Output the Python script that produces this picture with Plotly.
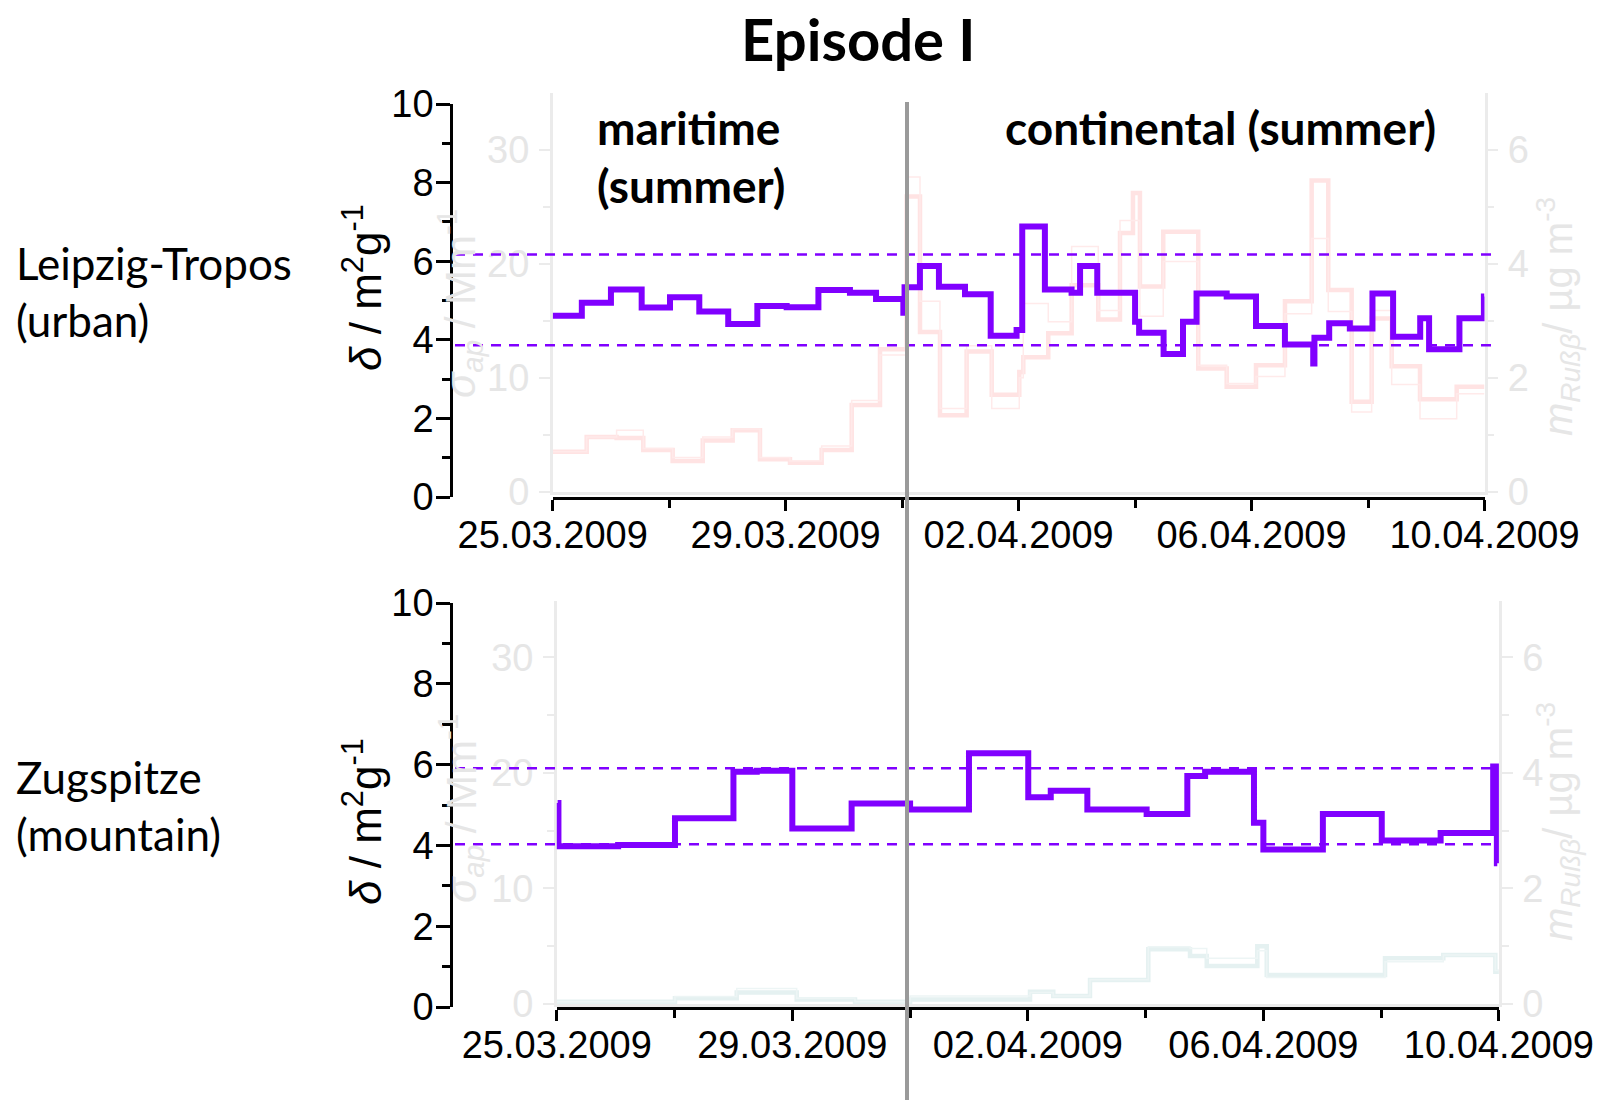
import plotly.graph_objects as go

W, H = 1602, 1100

# ---------------- data ----------------
# Leipzig-Tropos: mass absorption cross section delta (segment start times, values)
top_t = ["2009-03-25 00:00", "2009-03-25 12:00", "2009-03-26 00:00", "2009-03-26 12:40",
         "2009-03-27 00:20", "2009-03-27 12:25", "2009-03-28 00:20", "2009-03-28 12:20",
         "2009-03-29 00:25", "2009-03-29 13:30", "2009-03-30 02:30", "2009-03-30 13:15",
         "2009-03-31 00:30", "2009-03-31 01:00", "2009-03-31 07:20", "2009-03-31 15:10",
         "2009-04-01 01:55", "2009-04-01 12:30", "2009-04-01 23:10", "2009-04-02 01:30",
         "2009-04-02 10:50", "2009-04-02 21:50", "2009-04-03 01:20", "2009-04-03 08:25",
         "2009-04-04 00:00", "2009-04-04 01:40", "2009-04-04 11:45", "2009-04-04 19:45",
         "2009-04-05 01:20", "2009-04-05 13:45", "2009-04-06 01:50", "2009-04-06 13:45",
         "2009-04-07 01:25", "2009-04-07 01:55", "2009-04-07 08:00", "2009-04-07 16:30",
         "2009-04-08 01:50", "2009-04-08 10:20", "2009-04-08 21:30", "2009-04-09 01:10",
         "2009-04-09 13:40", "2009-04-09 23:45"]
top_v = [4.61, 4.94, 5.28, 4.82, 5.08, 4.72, 4.40, 4.86, 4.83, 5.27, 5.20, 5.04,
         4.69, 5.34, 5.88, 5.35, 5.16, 4.10, 4.25, 6.88, 5.28, 5.20, 5.88, 5.20,
         4.46, 4.18, 3.64, 4.46, 5.18, 5.10, 4.35, 3.88, 3.40, 4.05, 4.42, 4.29,
         5.18, 4.08, 4.55, 3.76, 4.55, 5.10]
top_end = "2009-04-10 00:00"
top_band = [6.17, 3.86]

# Zugspitze
bot_t = ["2009-03-25 00:20", "2009-03-25 00:40", "2009-03-26 01:00", "2009-03-27 00:10",
         "2009-03-28 00:00", "2009-03-28 09:30", "2009-03-29 00:00", "2009-03-30 00:10",
         "2009-03-31 00:00", "2009-04-01 00:00", "2009-04-02 00:10", "2009-04-02 09:20",
         "2009-04-03 00:15", "2009-04-04 00:25", "2009-04-04 17:00", "2009-04-05 00:15",
         "2009-04-05 20:10", "2009-04-06 00:00", "2009-04-07 00:15", "2009-04-08 00:15",
         "2009-04-09 00:15", "2009-04-09 21:40", "2009-04-09 23:10"]
bot_v = [5.05, 3.98, 4.01, 4.67, 5.82, 5.85, 4.42, 5.04, 4.89, 6.28, 5.19, 5.35,
         4.89, 4.78, 5.72, 5.82, 4.56, 3.90, 4.78, 4.12, 4.31, 5.95, 3.56]
bot_end = "2009-04-09 23:20"
bot_band = [5.91, 4.03]

# faint background series: sigma_ap (Mm-1) and m_Russ (ug m-3)
gtop_t = ["2009-03-25 00:00", "2009-03-25 14:00", "2009-03-26 02:20", "2009-03-26 13:20",
          "2009-03-27 01:26", "2009-03-27 13:50", "2009-03-28 02:10", "2009-03-28 13:25",
          "2009-03-29 01:47", "2009-03-29 14:50", "2009-03-30 03:13", "2009-03-30 14:53",
          "2009-03-31 01:52", "2009-03-31 07:22", "2009-03-31 15:36", "2009-04-01 02:35",
          "2009-04-01 12:55", "2009-04-02 00:17", "2009-04-02 01:56", "2009-04-02 12:14",
          "2009-04-02 21:52", "2009-04-03 08:50", "2009-04-03 17:47", "2009-04-03 23:08",
          "2009-04-04 02:00", "2009-04-04 11:37", "2009-04-05 02:02", "2009-04-05 13:45",
          "2009-04-06 01:50", "2009-04-06 13:46", "2009-04-07 00:46", "2009-04-07 07:37",
          "2009-04-07 17:15", "2009-04-08 01:30", "2009-04-08 09:45", "2009-04-08 21:25",
          "2009-04-09 12:32"]
gtop_sigma = [3.5, 4.8, 4.7, 3.66, 2.7, 4.5, 5.4, 2.84, 2.54, 3.66, 7.6, 12.5,
              25.9, 14.0, 6.7, 12.3, 8.5, 10.5, 11.8, 13.9, 18.1, 15.1, 22.7, 26.2,
              18.0, 22.8, 10.8, 9.2, 11.1, 16.7, 27.3, 17.7, 7.9, 15.2, 11.0, 8.1, 9.2]
gtop_mass = [0.70, 0.96, 1.08, 0.76, 0.60, 0.96, 1.10, 0.60, 0.54, 0.80, 1.60, 2.40,
             5.52, 3.34, 1.46, 2.56, 1.46, 2.00, 3.30, 2.98, 4.30, 3.18, 4.76, 4.76,
             3.08, 4.04, 2.22, 1.90, 2.02, 3.12, 4.44, 3.16, 1.40, 3.18, 1.88, 1.28, 1.72]
gtop_end = "2009-04-10 00:00"

gbot_t = ["2009-03-25 00:00", "2009-03-27 00:10", "2009-03-28 01:20", "2009-03-29 01:47",
          "2009-03-30 01:33", "2009-03-31 00:00", "2009-04-02 00:53", "2009-04-02 10:22",
          "2009-04-03 01:20", "2009-04-04 01:06", "2009-04-04 18:06", "2009-04-05 00:55",
          "2009-04-05 21:32", "2009-04-06 01:22", "2009-04-08 01:35", "2009-04-09 01:20",
          "2009-04-09 22:33"]
gbot_sigma = [0.2, 0.5, 1.0, 0.4, 0.2, 0.4, 1.06, 0.7, 2.08, 4.73, 4.15, 3.29,
              5.0, 2.5, 3.95, 4.24, 2.8]
gbot_mass = [0.04, 0.13, 0.27, 0.10, 0.04, 0.14, 0.20, 0.14, 0.42, 0.99, 0.96, 0.79,
             0.92, 0.46, 0.73, 0.85, 0.58]
gbot_end = "2009-04-10 00:00"

x_range = ["2009-03-25", "2009-04-10"]
x_tickvals = ["2009-03-25", "2009-03-29", "2009-04-02", "2009-04-06", "2009-04-10"]
x_ticktext = ["25.03.2009", "29.03.2009", "02.04.2009", "06.04.2009", "10.04.2009"]
x_minorvals = ["2009-03-27", "2009-03-31", "2009-04-04", "2009-04-08"]

# ---------------- styles ----------------
PURPLE = "#8000ff"
GH_LINE = "#ebebeb"
GH_TEXT = "#e6e6e6"
PINK = "#ffe3e3"
PINK2 = "#ffeaea"
CYAN = "#e5f1f1"
CYAN2 = "#edf5f5"
TICKFONT = dict(family="Liberation Sans, Arial", size=38, color="black")
GHFONT = dict(family="Liberation Sans, Arial", size=38, color=GH_TEXT)
TXT = "Lato, Carlito, Calibri, sans-serif"

def px(x):
    return x / W

def py(y):
    return 1 - y / H

def step(t, v, end):
    return list(t) + [end], list(v) + [v[-1]]

fig = go.Figure()

# ghost top
xs, ys = step(gtop_t, gtop_sigma, gtop_end)
fig.add_trace(go.Scatter(x=xs, y=ys, mode="lines", line=dict(color=PINK, width=4.5, shape="hv"),
                         xaxis="x", yaxis="y", hoverinfo="skip"))
xs, ys = step(gtop_t, gtop_mass, gtop_end)
fig.add_trace(go.Scatter(x=xs, y=ys, mode="lines", line=dict(color=PINK2, width=1.5, shape="hv"),
                         xaxis="x", yaxis="y2", hoverinfo="skip"))
# main top
xs, ys = step(top_t, top_v, top_end)
fig.add_trace(go.Scatter(x=xs, y=ys, mode="lines", line=dict(color=PURPLE, width=6, shape="hv"),
                         xaxis="x2", yaxis="y3"))
# ghost bottom
xs, ys = step(gbot_t, gbot_sigma, gbot_end)
fig.add_trace(go.Scatter(x=xs, y=ys, mode="lines", line=dict(color=CYAN, width=4.5, shape="hv"),
                         xaxis="x3", yaxis="y4", hoverinfo="skip"))
xs, ys = step(gbot_t, gbot_mass, gbot_end)
fig.add_trace(go.Scatter(x=xs, y=ys, mode="lines", line=dict(color=CYAN2, width=1.5, shape="hv"),
                         xaxis="x3", yaxis="y5", hoverinfo="skip"))
# main bottom
xs, ys = step(bot_t, bot_v, bot_end)
fig.add_trace(go.Scatter(x=xs, y=ys, mode="lines", line=dict(color=PURPLE, width=6, shape="hv"),
                         xaxis="x4", yaxis="y6"))

XD_TOP = [px(552.7), px(1484.5)]
XD_BOT = [px(556.8), px(1498.9)]
YPOS = px(451)

def ghost_x(anchor, dom):
    return dict(domain=dom, range=x_range, type="date", anchor=anchor, showline=True,
                linecolor=GH_LINE, linewidth=2.5, ticks="", showticklabels=False,
                showgrid=False, zeroline=False, automargin=False)

def ghost_y(anchor, dom, rng, vals, minor, side, overlay=None):
    d = dict(range=rng, anchor=anchor, side=side, showline=True, linecolor=GH_LINE,
             linewidth=2.5, ticks="outside", tickvals=vals, ticklen=11, tickwidth=2,
             tickcolor=GH_LINE, tickfont=GHFONT, ticklabelstandoff=2,
             minor=dict(tickvals=minor, ticks="outside", ticklen=7, tickwidth=2,
                        tickcolor=GH_LINE, showgrid=False),
             showgrid=False, zeroline=False, automargin=False)
    if overlay:
        d["overlaying"] = overlay
    else:
        d["domain"] = dom
    return d

def main_x(anchor, dom):
    return dict(domain=dom, range=x_range, type="date", anchor=anchor, showline=True,
                linecolor="black", linewidth=2.5, ticks="outside", ticklen=11, tickwidth=2.5,
                tickcolor="black", tickvals=x_tickvals, ticktext=x_ticktext, tickfont=TICKFONT,
                ticklabelstandoff=-8,
                minor=dict(tickvals=x_minorvals, ticks="outside", ticklen=8, tickwidth=2.5,
                           tickcolor="black", showgrid=False),
                showgrid=False, zeroline=False, automargin=False)

def main_y(dom):
    return dict(domain=dom, range=[0, 10], anchor="free", position=YPOS, side="left",
                showline=True, linecolor="black", linewidth=2.5, ticks="outside",
                ticklen=14, tickwidth=2.5, tickcolor="black", dtick=2, tick0=0,
                tickfont=TICKFONT, ticklabelstandoff=-5,
                minor=dict(dtick=1, tick0=0, ticks="outside", ticklen=8, tickwidth=2.5,
                           tickcolor="black", showgrid=False),
                showgrid=False, zeroline=False, automargin=False)

fig.update_layout(
    width=W, height=H, margin=dict(l=0, r=0, t=0, b=0, autoexpand=False),
    paper_bgcolor="white", plot_bgcolor="rgba(0,0,0,0)", showlegend=False,
    xaxis=ghost_x("y", XD_TOP),
    yaxis=ghost_y("x", [py(491.7), py(92.7)], [0, 35], [0, 10, 20, 30], [5, 15, 25], "left"),
    yaxis2=ghost_y("x", None, [0, 7], [0, 2, 4, 6], [1, 3, 5], "right", overlay="y"),
    xaxis2=main_x("y3", XD_TOP),
    yaxis3=main_y([py(497), py(104)]),
    xaxis3=ghost_x("y4", XD_BOT),
    yaxis4=ghost_y("x3", [py(1004), py(600.8)], [0, 34.9], [0, 10, 20, 30], [5, 15, 25], "left"),
    yaxis5=ghost_y("x3", None, [0, 6.98], [0, 2, 4, 6], [1, 3, 5], "right", overlay="y4"),
    xaxis4=main_x("y6", XD_BOT),
    yaxis6=main_y([py(1007), py(603)]),
)

shapes = []
for v in top_band:
    shapes.append(dict(type="line", xref="paper", yref="y3", x0=px(455), x1=px(1494), y0=v, y1=v,
                       line=dict(color=PURPLE, width=2.5, dash="10px,8px"), layer="above"))
for v in bot_band:
    shapes.append(dict(type="line", xref="paper", yref="y6", x0=px(455), x1=px(1499), y0=v, y1=v,
                       line=dict(color=PURPLE, width=2.5, dash="10px,8px"), layer="above"))
shapes.append(dict(type="line", xref="paper", yref="paper", x0=px(907), x1=px(907),
                   y0=0, y1=py(102), line=dict(color="#9a9a9a", width=4), layer="above"))
fig.update_layout(shapes=shapes)

ann = []
def A(text, x, y, size, xanchor="center", bold=False, family=TXT, color="black", angle=0):
    ann.append(dict(text=("<b>%s</b>" % text) if bold else text, x=px(x), y=py(y),
                    xref="paper", yref="paper", xanchor=xanchor, yanchor="middle",
                    showarrow=False, textangle=angle,
                    font=dict(family=family, size=size, color=color)))

A("Episode I", 858, 38, 58, bold=True)
A("maritime", 595, 128, 46, xanchor="left", bold=True)
A("(summer)", 595, 185, 46, xanchor="left", bold=True)
A("continental (summer)", 1220, 128, 46, bold=True)
A("Leipzig-Tropos", 14, 263, 44, xanchor="left")
A("(urban)", 14, 320, 44, xanchor="left")
A("Zugspitze", 14, 777, 44, xanchor="left")
A("(mountain)", 14, 834, 44, xanchor="left")

DELTA = "<i>δ</i> / m<sup>2</sup>g<sup>-1</sup>"
A(DELTA, 362, 288, 44, family="Liberation Sans, Arial", angle=-90)
A(DELTA, 362, 822, 44, family="Liberation Sans, Arial", angle=-90)
SIG = "<i>σ<sub>ap</sub></i> / Mm<sup>-1</sup>"
MAS = "<i>m<sub>Rußβ</sub></i>/ µg m<sup>-3</sup>"
A(SIG, 460, 303, 42, family="Liberation Sans, Arial", color=GH_TEXT, angle=-90)
A(SIG, 460, 808, 42, family="Liberation Sans, Arial", color=GH_TEXT, angle=-90)
A(MAS, 1558, 317, 40, family="Liberation Sans, Arial", color=GH_TEXT, angle=-90)
A(MAS, 1558, 822, 40, family="Liberation Sans, Arial", color=GH_TEXT, angle=-90)
fig.update_layout(annotations=ann)

fig.write_html("out.html")
